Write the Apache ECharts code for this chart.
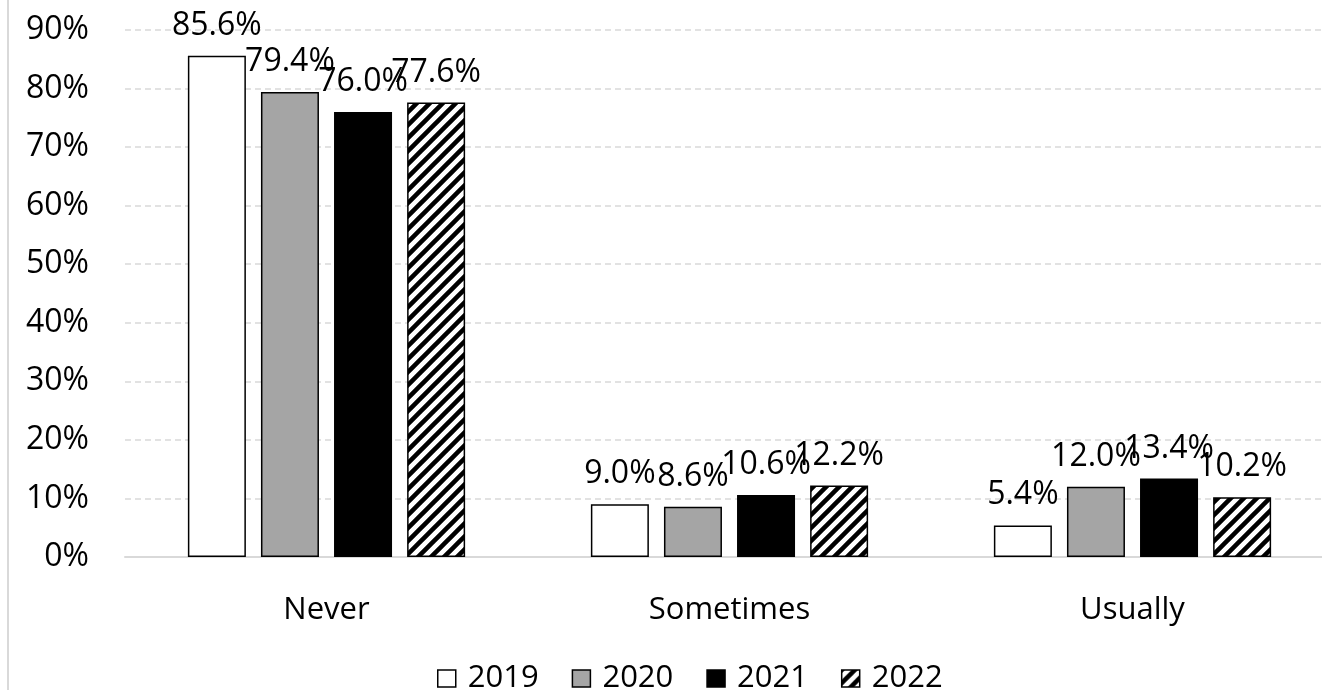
<!DOCTYPE html>
<html>
<head>
<meta charset="utf-8">
<script src="https://cdn.jsdelivr.net/npm/echarts@6/dist/echarts.min.js"></script>
<style>
  html, body { margin: 0; padding: 0; background: #fff; overflow: hidden; }
  #chart { width: 1340px; height: 690px; }
</style>
</head>
<body>
<div id="chart"></div>
<script>
// Response categories and yearly shares (%)
const categories = ['Never', 'Sometimes', 'Usually'];
const years = ['2019', '2020', '2021', '2022'];
const values2019 = [85.6, 9.0, 5.4];
const values2020 = [79.4, 8.6, 12.0];
const values2021 = [76.0, 10.6, 13.4];
const values2022 = [77.6, 12.2, 10.2];
const yTicks = [0, 10, 20, 30, 40, 50, 60, 70, 80, 90];

const FONT = '"Open Sans", sans-serif';

// Diagonal hatch fill for the 2022 series
function hatch() {
  const s = 13;
  const c = document.createElement('canvas');
  c.width = s; c.height = s;
  const g = c.getContext('2d');
  g.fillStyle = '#fff';
  g.fillRect(0, 0, s, s);
  g.strokeStyle = '#000';
  g.lineWidth = 4.5;
  g.beginPath();
  g.moveTo(-s, 2 * s); g.lineTo(2 * s, -s);
  g.moveTo(-s, s); g.lineTo(s, -s);
  g.moveTo(0, 2 * s); g.lineTo(2 * s, 0);
  g.stroke();
  return { image: c, repeat: 'repeat' };
}

const fills = ['#ffffff', '#a5a5a5', '#000000', hatch()];
const seriesValues = [values2019, values2020, values2021, values2022];

const chart = echarts.init(document.getElementById('chart'), null, { renderer: 'canvas' });

chart.setOption({
  backgroundColor: '#fff',
  animation: false,
  textStyle: { fontFamily: FONT, color: '#000' },
  graphic: [{
    type: 'line',
    shape: { x1: 8, y1: 0, x2: 8, y2: 690 },
    style: { stroke: '#d9d9d9', lineWidth: 2 },
    silent: true
  }],
  legend: {
    left: 437,
    top: 663,
    padding: 0,
    icon: 'rect',
    itemWidth: 18,
    itemHeight: 17,
    itemGap: 33,
    itemStyle: { borderColor: '#000', borderWidth: 1.5 },
    textStyle: { fontFamily: FONT, fontSize: 31, color: '#000', padding: [0, 0, 0, 7] },
    data: years
  },
  grid: { left: 125, right: 6, top: 30, height: 527, containLabel: false },
  xAxis: {
    type: 'category',
    data: categories,
    axisLine: { lineStyle: { color: '#d9d9d9', width: 2 } },
    axisTick: { show: false },
    axisLabel: { fontFamily: FONT, fontSize: 31, color: '#000', margin: 38 }
  },
  yAxis: {
    type: 'value',
    min: 0,
    max: yTicks[yTicks.length - 1],
    interval: 10,
    axisLine: { show: false },
    axisTick: { show: false },
    splitLine: { lineStyle: { color: '#d9d9d9', type: [6, 4], width: 1.5 } },
    axisLabel: {
      fontFamily: FONT, fontSize: 32, color: '#000', margin: 36,
      formatter: v => v + '%'
    }
  },
  series: years.map((y, i) => ({
    name: y,
    type: 'bar',
    data: seriesValues[i],
    barWidth: 58,
    barGap: '26%',
    itemStyle: { color: fills[i], borderColor: '#000', borderWidth: 1.5 },
    label: {
      show: true,
      position: 'top',
      distance: 14,
      fontFamily: FONT,
      fontSize: 32,
      color: '#000',
      formatter: p => p.value.toFixed(1) + '%'
    }
  }))
});
</script>
</body>
</html>
